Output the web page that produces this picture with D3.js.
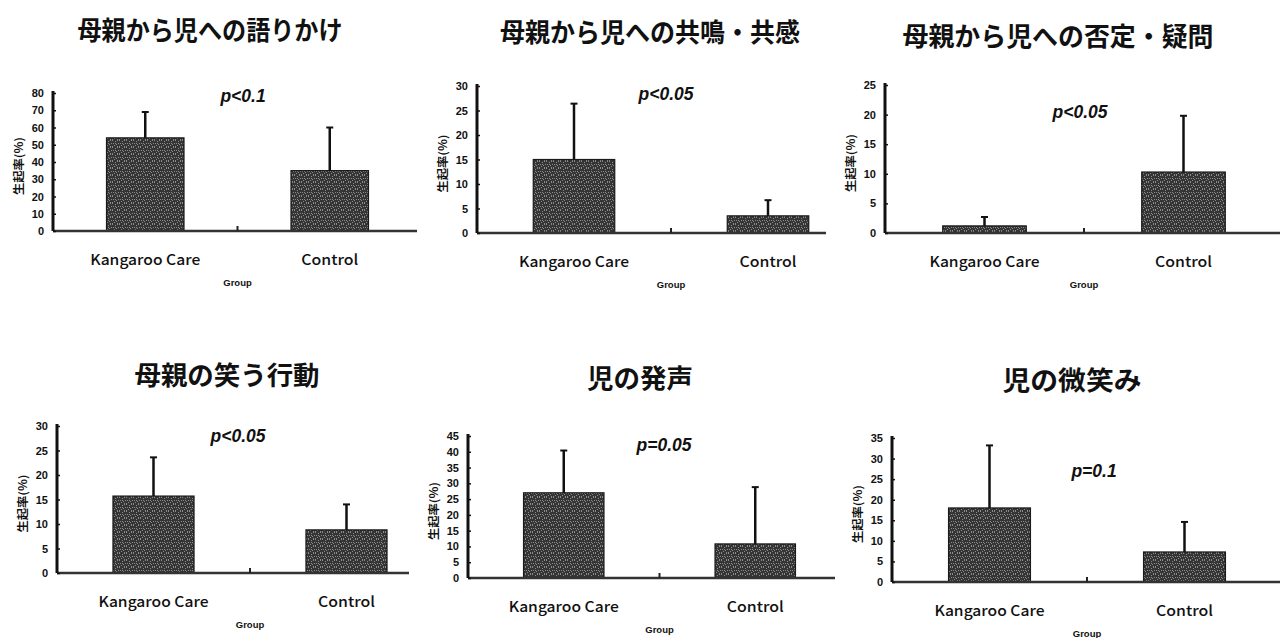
<!DOCTYPE html>
<html>
<head>
<meta charset="utf-8">
<script src="https://cdn.jsdelivr.net/npm/d3@7"></script>
<style>
  html, body { margin: 0; padding: 0; background: #fff; }
  svg { display: block; }
</style>
</head>
<body>
<svg id="chart" width="1280" height="638"></svg>
<script>
// Six small bar charts: occurrence rate (%) for Kangaroo Care vs Control
const titles = [
  "母親から児への語りかけ",
  "母親から児への共鳴・共感",
  "母親から児への否定・疑問",
  "母親の笑う行動",
  "児の発声",
  "児の微笑み"
];
const pLabels = ["p<0.1", "p<0.05", "p<0.05", "p<0.05", "p=0.05", "p=0.1"];
const groups = ["Kangaroo Care", "Control"];
const kcMean = [54, 15, 1.2, 15.7, 27, 18];
const kcSD = [15, 11.4, 1.5, 7.9, 13.4, 15.2];
const ctrlMean = [35, 3.5, 10.3, 8.8, 10.8, 7.3];
const ctrlSD = [25, 3.2, 9.5, 5.2, 18, 7.3];
const yMax = [80, 30, 25, 30, 45, 35];
const yStep = [10, 5, 5, 5, 5, 5];
const yLabel = "生起率(%)";
const xLabel = "Group";

// panel geometry: axis x, category step, plot top/bottom, baseline end,
// title centre + width, p-label centre
const layout = [
  { x0: 53,  step: 184.5, top: 93,  base: 231, end: 417,  tx: 210,  ty: 28,  tw: 265, px: 243, py: 102 },
  { x0: 477, step: 194,   top: 86,  base: 233, end: 826,  tx: 650,  ty: 30,  tw: 300, px: 666, py: 100 },
  { x0: 885, step: 199,   top: 85,  base: 233, end: 1280, tx: 1058, ty: 34,  tw: 311, px: 1080, py: 118 },
  { x0: 57,  step: 193,   top: 426, base: 573, end: 409,  tx: 227,  ty: 373, tw: 185, px: 238, py: 442 },
  { x0: 468, step: 191.5, top: 436, base: 578, end: 835,  tx: 640,  ty: 376, tw: 106, px: 664, py: 451 },
  { x0: 892, step: 195,   top: 438, base: 582, end: 1280, tx: 1072, ty: 378, tw: 139, px: 1094, py: 477 }
];

const svg = d3.select("#chart");
const sans = "'Liberation Sans', Arial, sans-serif";
const cjk = "'Noto Sans CJK JP', 'Noto Sans', sans-serif";

// stippled dark fill for the bars
const defs = svg.append("defs");
const pat = defs.append("pattern")
  .attr("id", "stipple")
  .attr("patternUnits", "userSpaceOnUse")
  .attr("width", 7).attr("height", 7);
pat.append("rect").attr("width", 7).attr("height", 7).attr("fill", "#353535");
[[0, 0], [3, 1], [5, 0], [1, 3], [4, 4], [6, 3], [2, 5], [5, 6], [0, 6], [3, 3]].forEach(([x, y]) =>
  pat.append("rect").attr("x", x).attr("y", y).attr("width", 1).attr("height", 1).attr("fill", "#8a8a8a"));

titles.forEach((title, i) => {
  const L = layout[i];
  const g = svg.append("g");

  const x = d3.scaleBand()
    .domain(groups)
    .range([L.x0, L.x0 + 2 * L.step])
    .paddingInner(0.58)
    .paddingOuter(0.29);
  const y = d3.scaleLinear().domain([0, yMax[i]]).range([L.base, L.top]);

  const rows = [
    { group: groups[0], mean: kcMean[i], sd: kcSD[i] },
    { group: groups[1], mean: ctrlMean[i], sd: ctrlSD[i] }
  ];

  // title
  g.append("text")
    .attr("x", L.tx).attr("y", L.ty)
    .attr("text-anchor", "middle")
    .attr("dominant-baseline", "central")
    .attr("font-family", cjk)
    .attr("font-weight", 700)
    .attr("font-size", 26)
    .attr("textLength", L.tw)
    .attr("lengthAdjust", "spacingAndGlyphs")
    .attr("fill", "#111")
    .text(title);

  // bars
  g.selectAll("rect.bar").data(rows).join("rect")
    .attr("class", "bar")
    .attr("x", d => x(d.group))
    .attr("y", d => y(d.mean))
    .attr("width", x.bandwidth())
    .attr("height", d => y(0) - y(d.mean))
    .attr("fill", "url(#stipple)")
    .attr("stroke", "#1a1a1a")
    .attr("stroke-width", 1.2);

  // error bars (upper only)
  const cx = d => x(d.group) + x.bandwidth() / 2;
  g.selectAll("line.err").data(rows).join("line")
    .attr("class", "err")
    .attr("x1", cx).attr("x2", cx)
    .attr("y1", d => y(d.mean))
    .attr("y2", d => y(d.mean + d.sd))
    .attr("stroke", "#111")
    .attr("stroke-width", 2.5);
  g.selectAll("line.cap").data(rows).join("line")
    .attr("class", "cap")
    .attr("x1", d => cx(d) - 3.5).attr("x2", d => cx(d) + 3.5)
    .attr("y1", d => y(d.mean + d.sd)).attr("y2", d => y(d.mean + d.sd))
    .attr("stroke", "#111")
    .attr("stroke-width", 2);

  // baseline
  g.append("line")
    .attr("x1", L.x0).attr("x2", L.end)
    .attr("y1", y(0)).attr("y2", y(0))
    .attr("stroke", "#333")
    .attr("stroke-width", 2.5);

  // small tick between the groups
  g.append("line")
    .attr("x1", L.x0 + L.step).attr("x2", L.x0 + L.step)
    .attr("y1", y(0)).attr("y2", y(0) - 5)
    .attr("stroke", "#222")
    .attr("stroke-width", 2);

  // y axis
  const ticks = d3.range(0, yMax[i] + yStep[i] / 2, yStep[i]);
  const axis = d3.axisLeft(y).tickValues(ticks).tickSize(-3).tickPadding(9).tickSizeOuter(0);
  const ag = g.append("g").attr("transform", `translate(${L.x0},0)`).call(axis);
  ag.select(".domain").attr("stroke", "#111").attr("stroke-width", 3)
    .attr("d", `M0,${L.top - 2}V${L.base}`);
  ag.selectAll(".tick line").attr("stroke", "#111").attr("stroke-width", 1.5);
  ag.selectAll(".tick text")
    .attr("font-family", sans)
    .attr("font-weight", 700)
    .attr("font-size", 11)
    .attr("fill", "#111");

  // y axis title
  const ly = (L.top + L.base) / 2 + 4;
  g.append("text")
    .attr("transform", `translate(${L.x0 - 35},${ly}) rotate(-90)`)
    .attr("text-anchor", "middle")
    .attr("dominant-baseline", "central")
    .attr("font-family", cjk)
    .attr("font-weight", 700)
    .attr("font-size", 11)
    .attr("textLength", 58)
    .attr("lengthAdjust", "spacingAndGlyphs")
    .attr("fill", "#111")
    .text(yLabel);

  // category labels
  g.selectAll("text.cat").data(groups).join("text")
    .attr("class", "cat")
    .attr("x", d => x(d) + x.bandwidth() / 2)
    .attr("y", L.base + 34)
    .attr("text-anchor", "middle")
    .attr("font-family", cjk)
    .attr("font-weight", 500)
    .attr("font-size", 14.5)
    .attr("textLength", d => d === groups[0] ? 110 : 57)
    .attr("lengthAdjust", "spacingAndGlyphs")
    .attr("fill", "#111")
    .text(d => d);

  // x axis title
  g.append("text")
    .attr("x", L.x0 + L.step)
    .attr("y", L.base + 55)
    .attr("text-anchor", "middle")
    .attr("font-family", sans)
    .attr("font-weight", 700)
    .attr("font-size", 9.5)
    .attr("fill", "#111")
    .text(xLabel);

  // significance label
  g.append("text")
    .attr("x", L.px).attr("y", L.py)
    .attr("text-anchor", "middle")
    .attr("font-family", sans)
    .attr("font-weight", 700)
    .attr("font-style", "italic")
    .attr("font-size", 17.5)
    .attr("fill", "#111")
    .text(pLabels[i]);
});
</script>
</body>
</html>
